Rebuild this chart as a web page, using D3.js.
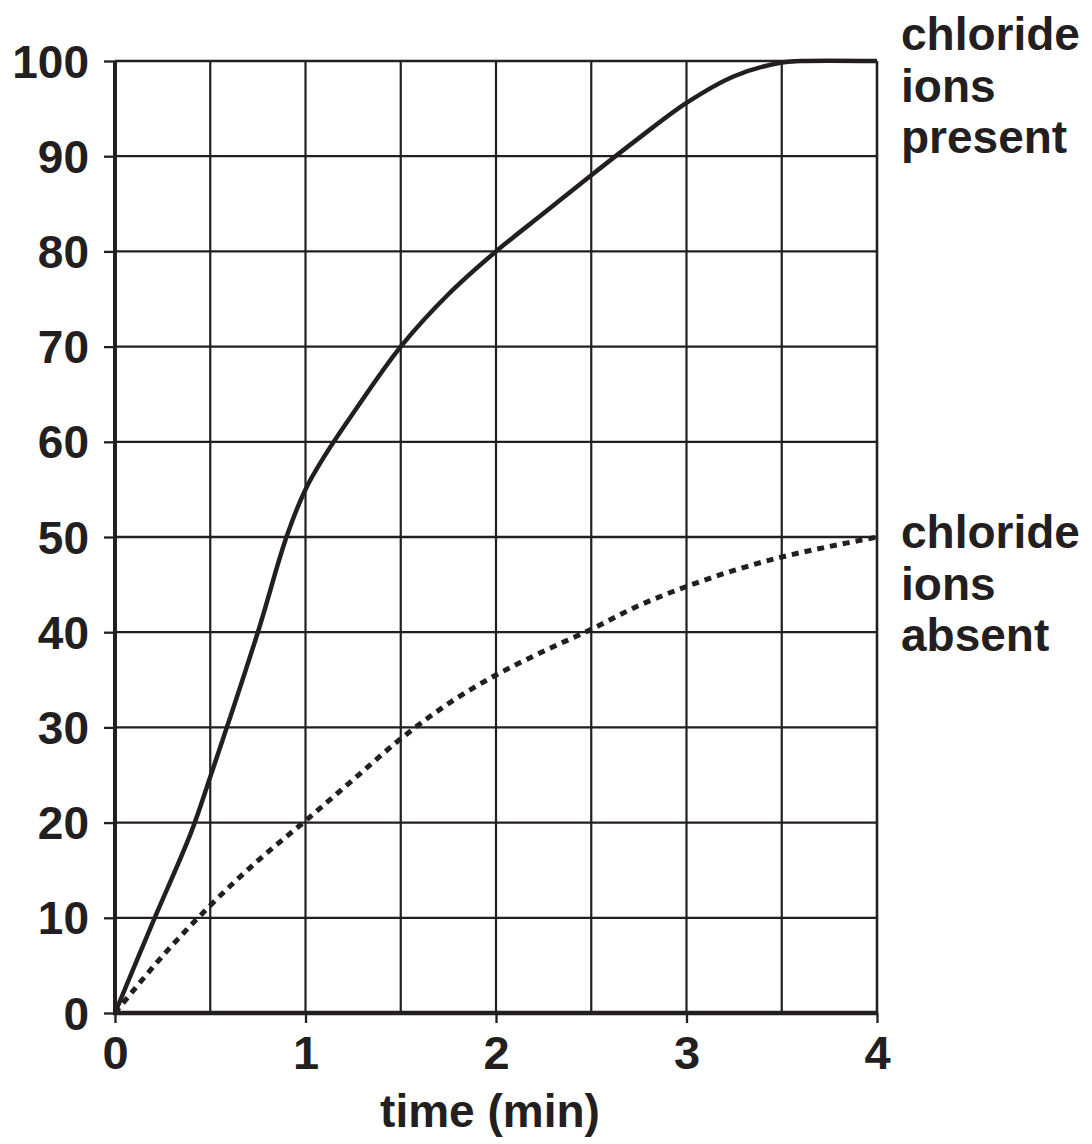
<!DOCTYPE html>
<html><head><meta charset="utf-8">
<script src="https://cdn.jsdelivr.net/npm/d3@7"></script>
<style>body{margin:0;background:#fff}svg{display:block}text{font-family:"Liberation Sans",Arial,Helvetica,sans-serif;font-weight:bold;fill:#231f20}</style>
</head><body><svg id="c" width="1092" height="1144"></svg>
<script>
const xTicks = [0, 1, 2, 3, 4];
const xGrid = [0.5, 1, 1.5, 2, 2.5, 3, 3.5, 4];
const yTicks = [0, 10, 20, 30, 40, 50, 60, 70, 80, 90, 100];
const presentX = [0, 0.2, 0.4, 0.5, 0.75, 0.9, 1.0, 1.1, 1.25, 1.5, 1.75, 2.0, 2.25, 2.5, 2.75, 3.0, 3.25, 3.5, 3.6, 4.0];
const presentY = [0, 9.6, 19, 24.8, 40, 50, 55, 58.5, 63, 70, 75.5, 80, 84, 88, 91.9, 95.6, 98.4, 99.85, 100, 100];
const absentX = [0, 0.25, 0.5, 0.75, 1.0, 1.25, 1.5, 1.75, 2.0, 2.25, 2.5, 2.75, 3.0, 3.25, 3.5, 3.75, 4.0];
const absentY = [0, 6, 11.3, 16, 20.2, 24.5, 28.8, 32.5, 35.5, 38, 40.3, 42.8, 44.8, 46.5, 47.9, 49, 50];
const xTitle = "time (min)";
const labelPresent = ["chloride", "ions", "present"];
const labelAbsent = ["chloride", "ions", "absent"];

const ink = "#231f20";
const svg = d3.select("#c");
const x = d3.scaleLinear().domain([0, 4]).range([115, 877]);
const y = d3.scaleLinear().domain([0, 100]).range([1013, 61]);

// grid
svg.append("g").selectAll("line").data(xGrid).join("line")
  .attr("x1", d => x(d)).attr("x2", d => x(d)).attr("y1", y(100)).attr("y2", y(0))
  .attr("stroke", ink).attr("stroke-width", d => d === 4 ? 2.6 : 2.2);
svg.append("g").selectAll("line").data(yTicks.filter(d => d > 0)).join("line")
  .attr("x1", x(0)).attr("x2", x(4)).attr("y1", d => y(d)).attr("y2", d => y(d))
  .attr("stroke", ink).attr("stroke-width", 2.3);

// axes
const yAxis = d3.axisLeft(y).tickValues(yTicks).tickSize(11).tickPadding(15).tickFormat(d3.format("d"));
const gy = svg.append("g").attr("transform", `translate(${x(0)},0)`).call(yAxis);
gy.select(".domain").remove();
gy.selectAll(".tick line").attr("stroke", ink).attr("stroke-width", 2.3);
gy.selectAll(".tick text").style("font-size", "46px").attr("fill", ink).attr("dy", "0.35em");
svg.append("line").attr("x1", x(0)).attr("x2", x(0)).attr("y1", y(100)).attr("y2", y(0) + 2)
  .attr("stroke", ink).attr("stroke-width", 4);

const xAxis = d3.axisBottom(x).tickValues(xTicks).tickSize(10).tickPadding(12).tickFormat(d3.format("d"));
const gx = svg.append("g").attr("transform", `translate(0,${y(0)})`).call(xAxis);
gx.select(".domain").remove();
gx.selectAll(".tick line").attr("stroke", ink).attr("stroke-width", 2.3);
gx.selectAll(".tick text").style("font-size", "47px").attr("fill", ink).attr("dy", "0.72em");
svg.append("line").attr("x1", x(0) - 2).attr("x2", x(4) + 1).attr("y1", y(0)).attr("y2", y(0))
  .attr("stroke", ink).attr("stroke-width", 4.5);

svg.append("text").attr("x", 490).attr("y", 1127).attr("text-anchor", "middle")
  .style("font-size", "46px").text(xTitle);

// lines
const present = presentX.map((d, i) => [d, presentY[i]]);
const absent = absentX.map((d, i) => [d, absentY[i]]);
const line = d3.line().x(d => x(d[0])).y(d => y(d[1])).curve(d3.curveCatmullRom.alpha(0.5));
svg.append("path").attr("d", line(present)).attr("fill", "none")
  .attr("stroke", ink).attr("stroke-width", 4.5).attr("stroke-linejoin", "round");
svg.append("path").attr("d", line(absent)).attr("fill", "none")
  .attr("stroke", ink).attr("stroke-width", 5).attr("stroke-dasharray", "7,6");

// labels
function label(lines, y0) {
  const t = svg.append("text").attr("x", 901).attr("y", y0).style("font-size", "46px");
  lines.forEach((s, i) => t.append("tspan").attr("x", 901).attr("y", y0 + i * 51.5).text(s));
}
label(labelPresent, 50);
label(labelAbsent, 548);
</script></body></html>
